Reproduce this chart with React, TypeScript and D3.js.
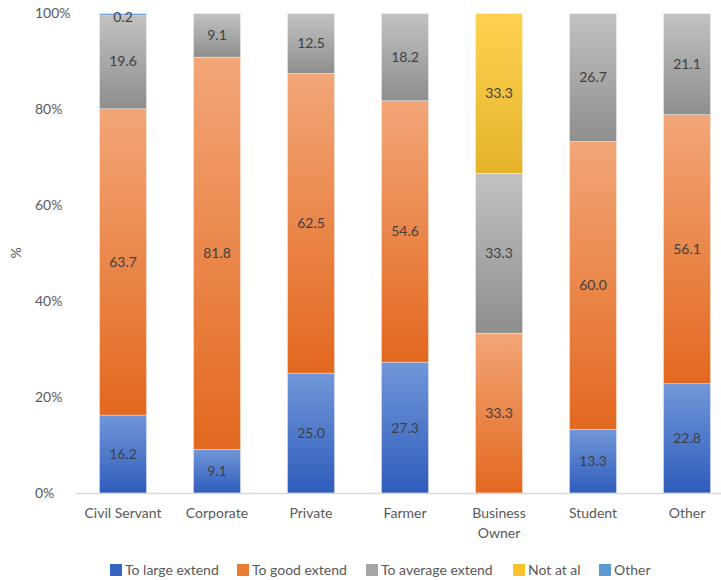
import React from "react";
import * as d3 from "d3";

const categories = ["Civil Servant", "Corporate", "Private", "Farmer", "Business Owner", "Student", "Other"];
const seriesNames = ["To large extend", "To good extend", "To average extend", "Not at al", "Other"];
const largeExtend = [16.2, 9.1, 25.0, 27.3, 0, 13.3, 22.8];
const goodExtend = [63.7, 81.8, 62.5, 54.6, 33.3, 60.0, 56.1];
const averageExtend = [19.6, 9.1, 12.5, 18.2, 33.3, 26.7, 21.1];
const notAtAll = [0, 0, 0, 0, 33.3, 0, 0];
const otherResp = [0.2, 0, 0, 0, 0, 0, 0];
const yTicks = [0, 0.2, 0.4, 0.6, 0.8, 1.0];

const seriesValues = [largeExtend, goodExtend, averageExtend, notAtAll, otherResp];
const gradients = [
  ["#7197d9", "#2f5cbb"],
  ["#f2a677", "#e3681f"],
  ["#c2c2c2", "#8e8e8e"],
  ["#ffd24f", "#e4b32a"],
  ["#6fa6dc", "#4a8ccc"],
];
const legendColors = ["#3565c0", "#ec7a32", "#a5a5a5", "#fdc12a", "#5b9bd5"];

const W = 721, H = 580;
const FONT = "Lato, 'Noto Sans', sans-serif";

export default function App() {
  const rows = categories.map((c, i) => {
    const r: any = { cat: c };
    seriesNames.forEach((s, j) => (r[s] = seriesValues[j][i]));
    return r;
  });
  const stack = d3.stack<any>().keys(seriesNames).offset(d3.stackOffsetExpand);
  const stacked = stack(rows);

  const x = d3.scaleBand().domain(categories).range([76, 734]).paddingInner(0.5).paddingOuter(0.25);
  const y = d3.scaleLinear().domain([0, 1]).range([493, 13.5]);
  const fmt = d3.format(".1f");

  const legendX = [110, 237, 366, 513, 599];

  return (
    <svg width={W} height={H} style={{ position: "absolute", left: 0, top: 0, background: "#fff" }} fontFamily={FONT}>
      <defs>
        {gradients.map((g, i) => (
          <linearGradient key={i} id={`g${i}`} x1="0" y1="0" x2="0" y2="1">
            <stop offset="0" stopColor={g[0]} />
            <stop offset="1" stopColor={g[1]} />
          </linearGradient>
        ))}
      </defs>
      {yTicks.map((t) => (
        <text key={t} x={35} y={y(t)} dy="0.35em" fontSize={14} fill="#595959">
          {d3.format(".0%")(t)}
        </text>
      ))}
      <text transform={`translate(21,253) rotate(-90)`} textAnchor="middle" fontSize={14} fill="#595959">%</text>
      {stacked.map((s, si) =>
        s.map((d, ci) => {
          const h = y(d[0]) - y(d[1]);
          if (h <= 0) return null;
          return (
            <rect key={`${si}-${ci}`} x={x(categories[ci])} y={y(d[1])} width={x.bandwidth()} height={Math.max(h, 1.5)} fill={`url(#g${si})`} stroke="rgba(255,255,255,0.45)" strokeWidth={0.75} />
          );
        })
      )}
      <line x1={76} x2={721} y1={493.5} y2={493.5} stroke="#d9d9d9" strokeWidth={1.5} />
      {stacked.map((s, si) =>
        s.map((d, ci) => {
          const v = seriesValues[si][ci];
          if (!v) return null;
          const cy = Math.max((y(d[0]) + y(d[1])) / 2, 17);
          return (
            <text key={`l${si}-${ci}`} x={x(categories[ci])! + x.bandwidth() / 2} y={cy} dy="0.35em" textAnchor="middle" fontSize={14} fill="#404040">
              {fmt(v)}
            </text>
          );
        })
      )}
      {categories.map((c) => {
        const parts = c === "Business Owner" ? ["Business", "Owner"] : [c];
        return parts.map((p, k) => (
          <text key={c + k} x={x(c)! + x.bandwidth() / 2} y={513 + k * 20} dy="0.35em" textAnchor="middle" fontSize={14} fill="#595959">
            {p}
          </text>
        ));
      })}
      {seriesNames.map((s, i) => (
        <g key={s} transform={`translate(${legendX[i]},570)`}>
          <rect x={0} y={-6} width={12} height={12} fill={legendColors[i]} />
          <text x={15} y={0} dy="0.35em" fontSize={14} fill="#595959">{s}</text>
        </g>
      ))}
    </svg>
  );
}
